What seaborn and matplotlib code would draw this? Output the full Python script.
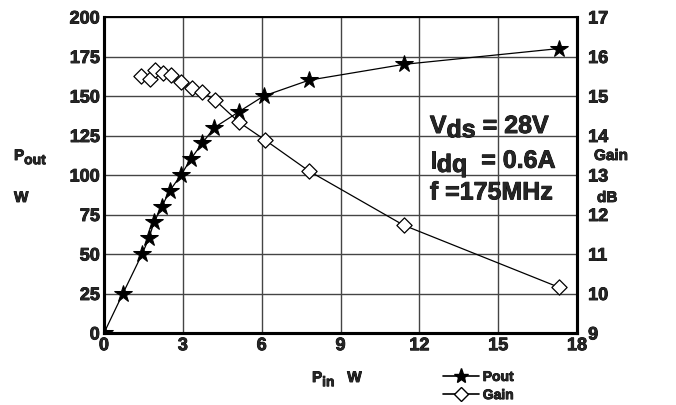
import matplotlib
matplotlib.use("Agg")
import matplotlib.pyplot as plt
from matplotlib import font_manager
import matplotlib.patheffects as pe
from matplotlib.text import Text
from matplotlib.lines import Line2D
import seaborn as sns
import pandas as pd

# values
pin_out = [0.0, 0.72, 1.45, 1.71, 1.9, 2.2, 2.5, 2.93, 3.3, 3.73, 4.2, 5.13, 6.08, 7.8, 11.4, 17.3]
pout = [0, 25, 50, 60, 70, 80, 90, 100, 110, 120, 130, 140, 150, 160, 170, 180]

pin_gain = [1.41, 1.75, 1.94, 2.24, 2.55, 2.93, 3.35, 3.73, 4.22, 5.13, 6.12, 7.8, 11.4, 17.3]
gain = [15.51, 15.43, 15.66, 15.58, 15.53, 15.35, 15.2, 15.1, 14.9, 14.34, 13.89, 13.1, 11.73, 10.16]

x_ticks = [0, 3, 6, 9, 12, 15, 18]
pout_ticks = [0, 25, 50, 75, 100, 125, 150, 175, 200]
gain_ticks = [9, 10, 11, 12, 13, 14, 15, 16, 17]

sns.set_style("white")

# pick a family whose bold face is really installed
family = 'DejaVu Sans'
for fam in ['Liberation Sans', 'Roboto', 'Noto Sans', 'Open Sans', 'Lato', 'Inter']:
    try:
        path = font_manager.findfont(font_manager.FontProperties(family=fam, weight='bold'),
                                     fallback_to_default=False)
    except Exception:
        continue
    if 'bold' in path.lower():
        family = fam
        break
plt.rcParams['font.family'] = [family, 'DejaVu Sans']
plt.rcParams['font.weight'] = 'bold'

df_out = pd.DataFrame({'pin': pin_out, 'pout': pout})
df_gain = pd.DataFrame({'pin': pin_gain, 'gain': gain})


def sub_text(ax, x, y, parts, transform, va='center'):
    # parts: list of (text, fontsize, drop in points); later parts chained to the right
    first = ax.text(x, y, parts[0][0], fontsize=parts[0][1], fontweight='bold',
                    transform=transform, va=va, ha='left', clip_on=False)
    prev, prev_drop = first, parts[0][2]
    for txt, size, drop in parts[1:]:
        prev = ax.annotate(txt, xy=(1, 0), xycoords=prev, xytext=(0, prev_drop - drop),
                           textcoords='offset points', fontsize=size, fontweight='bold',
                           va='bottom', ha='left', annotation_clip=False)
        prev_drop = drop
    return first


fig = plt.figure(figsize=(6.76, 4.05), dpi=100)
ax = fig.add_axes([104 / 676, 72 / 405, 473 / 676, 316 / 405])

sns.lineplot(data=df_out, x='pin', y='pout', ax=ax, color='black', lw=0.9,
             marker='*', markersize=13, markeredgecolor='black', sort=True)
ax.set_xlim(0, 18)
ax.set_ylim(0, 200)
ax.set_xticks(x_ticks, labels=[str(v) for v in x_ticks], fontsize=13, fontweight='bold')
ax.set_yticks(pout_ticks, labels=[str(v) for v in pout_ticks], fontsize=13, fontweight='bold')
ax.grid(True, color='#444444', lw=1.0)
ax.tick_params(length=0, pad=3)
ax.set_xlabel('')
ax.set_ylabel('')

ax2 = ax.twinx()
# trend line drawn from the third point on, markers at every point
sns.lineplot(data=df_gain.iloc[2:], x='pin', y='gain', ax=ax2, color='black', lw=0.9, sort=True)
sns.scatterplot(data=df_gain, x='pin', y='gain', ax=ax2, marker='D', s=60,
                facecolor='white', edgecolor='black', linewidth=0.9, zorder=5)
ax2.set_ylim(9, 17)
ax2.set_yticks(gain_ticks, labels=[str(v) for v in gain_ticks], fontsize=13, fontweight='bold')
ax2.tick_params(length=0, pad=8)
ax2.set_ylabel('')
ax2.grid(False)

for a in (ax, ax2):
    for side in ['left', 'bottom', 'right']:
        a.spines[side].set_linewidth(2.2)
        a.spines[side].set_color('black')
    a.spines['top'].set_linewidth(1.2)
    a.spines['top'].set_color('black')

ft = fig.transFigure
sub_text(ax2, 14 / 676, 1 - 163 / 405, [('P', 11, 0), ('out', 10, 3)], ft, va='bottom')
fig.text(14 / 676, 1 - 198 / 405, 'W', fontsize=11, fontweight='bold', va='center', ha='left')
fig.text(594 / 676, 1 - 156 / 405, 'Gain', fontsize=11, fontweight='bold', va='center', ha='left')
fig.text(597 / 676, 1 - 198 / 405, 'dB', fontsize=11, fontweight='bold', va='center', ha='left')
sub_text(ax2, 312 / 676, 1 - 385 / 405, [('P', 11, 0), ('in', 10, 3), ('   W', 11, 0)], ft, va='bottom')

at = ax.transData
sub_text(ax2, 12.4, 131, [('V', 18, 0), ('ds', 18, 3), (' = 28V', 18, 0)], at, va='center')
sub_text(ax2, 12.4, 109, [('I', 18, 0), ('dq', 18, 3), ('  = 0.6A', 18, 0)], at, va='center')
ax2.text(12.4, 89, 'f =175MHz', fontsize=18, fontweight='bold', va='center', ha='left', transform=at)

handles = [
    Line2D([], [], color='black', lw=1.2, marker='*', markersize=11),
    Line2D([], [], color='black', lw=1.2, marker='D', markersize=7, markerfacecolor='white'),
]
fig.legend(handles, ['Pout', 'Gain'], loc='center left', bbox_to_anchor=(430 / 676, 1 - 386 / 405),
           frameon=False, prop={'weight': 'bold', 'size': 10},
           handlelength=2.6, handletextpad=0.3, labelspacing=0.3)

# thicken all text slightly, the original uses a heavy bold face
fig.canvas.draw()
for t in fig.findobj(Text):
    if t.get_text():
        t.set_path_effects([pe.withStroke(linewidth=0.6, foreground='black')])

fig.savefig('out.png', dpi=100)
